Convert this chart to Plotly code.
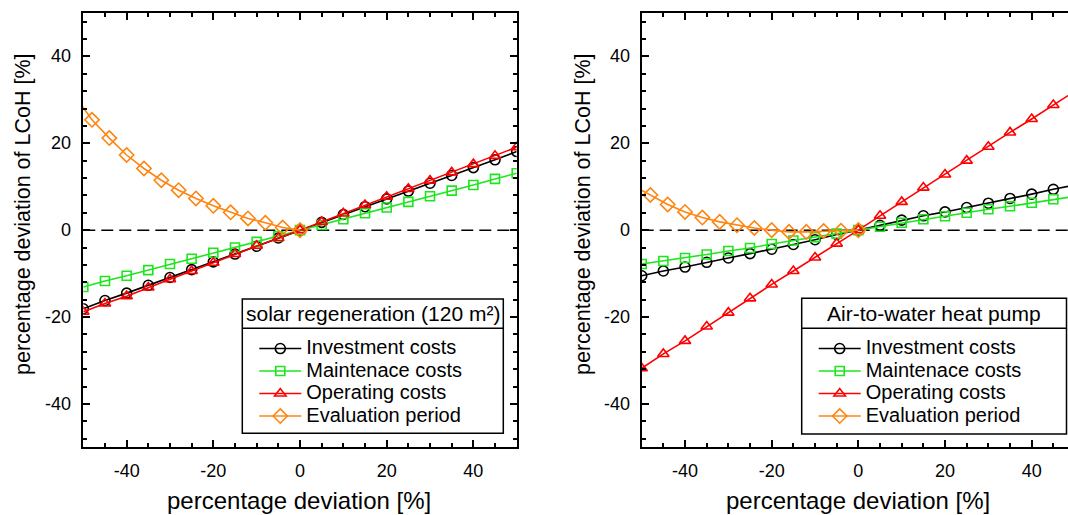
import plotly.graph_objects as go

# ---------------- data ----------------
x_cost = [-50, -45, -40, -35, -30, -25, -20, -15, -10, -5, 0, 5, 10, 15, 20, 25, 30, 35, 40, 45, 50]
x_eval = [-52, -48, -44, -40, -36, -32, -28, -24, -20, -16, -12, -8, -4, 0]

series_names = ["Investment costs", "Maintenace costs", "Operating costs", "Evaluation period"]
legend_titles = ["solar regeneration (120 m²)", "Air-to-water heat pump"]

tick_vals = [-40, -20, 0, 20, 40]
tick_text = ["-40", "-20", "0", "20", "40"]

solar_invest = [-18.1, -16.2, -14.5, -12.7, -10.9, -9.1, -7.3, -5.5, -3.7, -1.8, 0,
                1.8, 3.6, 5.4, 7.2, 9.0, 10.8, 12.6, 14.4, 16.2, 18.1]
solar_maint = [-13.1, -11.7, -10.5, -9.2, -7.8, -6.6, -5.2, -4.0, -2.7, -1.4, 0,
               1.2, 2.5, 3.9, 5.2, 6.5, 7.8, 9.1, 10.4, 11.8, 13.1]
solar_oper = [-18.8, -16.9, -15.2, -13.2, -11.3, -9.4, -7.5, -5.5, -3.6, -1.8, 0,
              1.9, 3.85, 5.8, 7.7, 9.5, 11.4, 13.3, 15.2, 17.1, 19.1]
solar_eval = [30.9, 25.4, 21.2, 17.3, 14.2, 11.5, 9.2, 7.3, 5.6, 4.1, 2.7, 1.7, 0.6, 0]

hp_invest = [-10.5, -9.4, -8.5, -7.4, -6.4, -5.4, -4.4, -3.3, -2.2, -1.0, 0,
             1.1, 2.3, 3.3, 4.2, 5.2, 6.2, 7.3, 8.3, 9.4, 10.4]
hp_maint = [-7.8, -7.1, -6.4, -5.6, -4.8, -4.1, -3.2, -2.4, -1.6, -0.8, 0,
            0.8, 1.7, 2.5, 3.2, 4.0, 4.8, 5.5, 6.3, 7.1, 7.8]
hp_oper = [-31.8, -28.5, -25.5, -22.2, -19.0, -15.7, -12.5, -9.4, -6.3, -3.1, 0,
           3.3, 6.5, 9.8, 12.8, 16.0, 19.2, 22.5, 25.6, 28.8, 32.0]
hp_eval = [10.3, 8.1, 5.9, 4.2, 2.9, 1.9, 1.15, 0.5, 0, -0.4, -0.4, -0.2, -0.15, 0]

# ---------------- styling ----------------
FONT = "Liberation Sans, Arial, sans-serif"
colors = ["#000000", "#1ee61e", "#ff0000", "#ff8410"]
symbols = ["circle-open", "square-open", "triangle-up-open", "diamond-open"]
sizes = [10, 9, 10, 11]

W, H = 1068, 515
def px_x(p):
    return p / W
def px_y(p):
    return 1 - p / H

fig = go.Figure()

panels = [
    dict(data=[solar_invest, solar_maint, solar_oper, solar_eval], xa="x", ya="y", legend="legend"),
    dict(data=[hp_invest, hp_maint, hp_oper, hp_eval], xa="x2", ya="y2", legend="legend2"),
]

for pnl in panels:
    for i, (name, yv) in enumerate(zip(series_names, pnl["data"])):
        xv = x_eval if i == 3 else x_cost
        fig.add_trace(go.Scatter(
            x=xv, y=yv, mode="lines+markers",
            name=f'<span style="font-size:20px">{name}</span>',
            line=dict(color=colors[i], width=1.6),
            marker=dict(symbol=symbols[i], size=sizes[i], color=colors[i],
                        line=dict(color=colors[i], width=1.6)),
            xaxis=pnl["xa"], yaxis=pnl["ya"], legend=pnl["legend"],
        ))

axis_common = dict(
    showline=True, linecolor="black", linewidth=2,
    ticks="inside", ticklen=7, tickwidth=1.5, tickcolor="black",
    showgrid=False, zeroline=False,
    tickvals=tick_vals, ticktext=tick_text,
    tickfont=dict(family=FONT, size=18, color="black"),
)
minor_x = dict(dtick=5, tick0=0, ticks="inside", ticklen=4, tickwidth=1.5, tickcolor="black")
minor_y = dict(dtick=4, tick0=0, ticks="inside", ticklen=4, tickwidth=1.5, tickcolor="black")
xdom1 = [px_x(83.3), px_x(516.7)]
xdom2 = [px_x(641.7), 1.0]
ydom = [px_y(447.3), px_y(13)]

fig.update_layout(
    xaxis=dict(domain=xdom1, range=[-50, 50], anchor="y", mirror="ticks", minor=minor_x,
               ticklabelstandoff=6, **axis_common),
    yaxis=dict(domain=ydom, range=[-50, 50], anchor="x", mirror="ticks", minor=minor_y,
               showticklabels=False, **axis_common),
    xaxis2=dict(domain=xdom2, range=[-50, 48.38], anchor="y2", mirror="ticks", minor=minor_x,
                ticklabelstandoff=6, **axis_common),
    yaxis2=dict(domain=ydom, range=[-50, 50], anchor="x2", mirror=False, minor=minor_y,
                showticklabels=False, **axis_common),
)

# y tick labels placed next to the axis line, positioned by the y scales
for ya, xdom in [("y", xdom1), ("y2", xdom2)]:
    for v, t in zip(tick_vals, tick_text):
        fig.add_annotation(text=t, xref="paper", yref=ya, x=xdom[0] - 10 / W, y=v,
                           showarrow=False, xanchor="right", yanchor="middle",
                           font=dict(family=FONT, size=18, color="black"))

# legend boxes (frame + title divider) and titles
boxes = [
    dict(x0=242.3, x1=503.3, y0=299.0, y1=433.3, div=328.3),
    dict(x0=801.7, x1=1066.5, y0=298.3, y1=434.0, div=328.3),
]
legend_keys = ["legend", "legend2"]
legend_layout = {}
for b, key, title in zip(boxes, legend_keys, legend_titles):
    fig.add_shape(type="rect", xref="paper", yref="paper",
                  x0=px_x(b["x0"]), x1=px_x(b["x1"]), y0=px_y(b["y1"]), y1=px_y(b["y0"]),
                  line=dict(color="black", width=1.5), fillcolor="white", layer="above")
    fig.add_shape(type="line", xref="paper", yref="paper",
                  x0=px_x(b["x0"]), x1=px_x(b["x1"]), y0=px_y(b["div"]), y1=px_y(b["div"]),
                  line=dict(color="black", width=1.5), layer="above")
    fig.add_annotation(text=title, xref="paper", yref="paper",
                       x=px_x((b["x0"] + b["x1"]) / 2), y=px_y((b["y0"] + b["div"]) / 2),
                       showarrow=False, xanchor="center", yanchor="middle",
                       font=dict(family=FONT, size=21, color="black"))
    legend_layout[key] = dict(
        x=px_x(b["x0"] + 12), y=px_y(b["div"] + 4),
        xanchor="left", yanchor="top",
        bgcolor="rgba(0,0,0,0)", borderwidth=0,
        font=dict(family=FONT, size=15, color="black"),
        itemwidth=42, tracegroupgap=0,
    )
fig.update_layout(**legend_layout)

# dashed zero lines
for xa, ya in [("x", "y"), ("x2", "y2")]:
    fig.add_shape(type="line", xref=f"{xa} domain", yref=ya, x0=0, x1=1, y0=0, y1=0,
                  line=dict(color="black", width=1.5, dash="12px,6px"), layer="below")

# axis titles
ytitle = "percentage deviation of LCoH [%]"
xtitle = "percentage deviation [%]"
for xc in [23, 583]:
    fig.add_annotation(text=ytitle, xref="paper", yref="paper", x=px_x(xc), y=px_y(214),
                       textangle=-90, showarrow=False, xanchor="center", yanchor="middle",
                       font=dict(family=FONT, size=21.5, color="black"))
for xc in [299, 858.3]:
    fig.add_annotation(text=xtitle, xref="paper", yref="paper", x=px_x(xc), y=px_y(500),
                       showarrow=False, xanchor="center", yanchor="middle",
                       font=dict(family=FONT, size=24, color="black"))

fig.update_layout(
    width=W, height=H, autosize=False,
    margin=dict(l=0, r=0, t=0, b=0),
    paper_bgcolor="white", plot_bgcolor="white",
    font=dict(family=FONT, color="black"),
)

fig.write_html("out.html")
